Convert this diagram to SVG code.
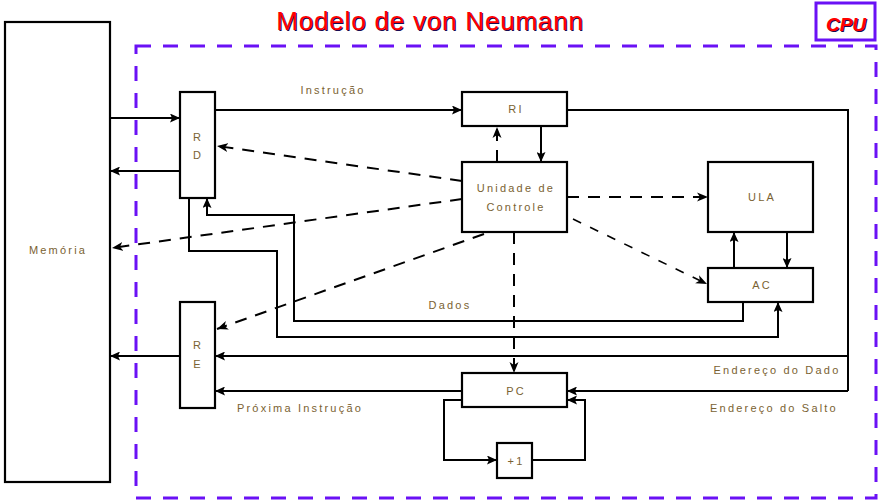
<svg xmlns="http://www.w3.org/2000/svg" width="880" height="503" viewBox="0 0 880 503">
<defs>
<style>
.box{fill:#fff;stroke:#000;stroke-width:2.2}
.ln{fill:none;stroke:#000;stroke-width:2}
.ds{fill:none;stroke:#000;stroke-width:2;stroke-dasharray:12 9}
.ds2{fill:none;stroke:#000;stroke-width:1.6;stroke-dasharray:9 10}
.lbl{font-family:"Liberation Sans",Arial,sans-serif;font-size:11px;fill:#7a6232;letter-spacing:2.2px;text-anchor:middle}
.cpu{fill:none;stroke:#6a11f5;stroke-width:3}
</style>
<marker id="ar" markerUnits="userSpaceOnUse" markerWidth="11" markerHeight="9" refX="10" refY="4.5" orient="auto">
<path d="M0,0 L10,4.5 L0,9 L2,4.5 z" fill="#000"/>
</marker>
<marker id="ad" markerUnits="userSpaceOnUse" markerWidth="13" markerHeight="10" refX="11" refY="5" orient="auto">
<path d="M0,0.5 L11,5 L0,9.5 L3,5 z" fill="#000"/>
</marker>
</defs>
<rect width="880" height="503" fill="#fff"/>

<rect x="136" y="46" width="740" height="452" class="cpu" stroke-dasharray="15 12"/>

<g id="title">
<text x="431" y="31" font-family="Liberation Sans,Arial,sans-serif" font-size="26" letter-spacing="0.8" text-anchor="middle" fill="#1a0a50">Modelo de von Neumann</text>
<text x="430" y="30" font-family="Liberation Sans,Arial,sans-serif" font-size="26" letter-spacing="0.8" text-anchor="middle" fill="#ff0000">Modelo de von Neumann</text>
</g>
<g id="cpu">
<rect x="816" y="3" width="59" height="37" class="cpu"/>
<text x="847" y="32" font-family="Liberation Sans,Arial,sans-serif" font-size="19" font-weight="bold" font-style="italic" text-anchor="middle" fill="#1a0a50">CPU</text>
<text x="846" y="31" font-family="Liberation Sans,Arial,sans-serif" font-size="19" font-weight="bold" font-style="italic" text-anchor="middle" fill="#ff0000">CPU</text>
</g>

<g id="connectors">
<line x1="110" y1="118" x2="180" y2="118" class="ln" marker-end="url(#ar)"/>
<line x1="180" y1="171" x2="110" y2="171" class="ln" marker-end="url(#ar)"/>
<line x1="215" y1="110" x2="462" y2="110" class="ln" marker-end="url(#ar)"/>
<line x1="541" y1="126" x2="541" y2="162" class="ln" marker-end="url(#ar)"/>
<line x1="497" y1="162" x2="497" y2="127" class="ds" marker-end="url(#ad)"/>
<polyline points="567,110 848,110 848,391" class="ln"/>
<line x1="848" y1="356" x2="215" y2="356" class="ln" marker-end="url(#ar)"/>
<line x1="848" y1="391" x2="567" y2="391" class="ln" marker-end="url(#ar)"/>
<line x1="180" y1="356" x2="110" y2="356" class="ln" marker-end="url(#ar)"/>
<line x1="462" y1="391" x2="215" y2="391" class="ln" marker-end="url(#ar)"/>
<polyline points="462,400 444,400 444,460 497,460" class="ln" marker-end="url(#ar)"/>
<polyline points="532,460 585,460 585,400 567,400" class="ln" marker-end="url(#ar)"/>
<line x1="514" y1="232" x2="514" y2="373" class="ds" marker-end="url(#ad)"/>
<line x1="567" y1="197" x2="708" y2="197" class="ds" marker-end="url(#ad)"/>
<line x1="573" y1="219" x2="707" y2="284" class="ds2" marker-end="url(#ad)"/>
<line x1="462" y1="181" x2="217" y2="146" class="ds" marker-end="url(#ad)"/>
<line x1="462" y1="199" x2="112" y2="248" class="ds" marker-end="url(#ad)"/>
<line x1="484" y1="234" x2="217" y2="329" class="ds" marker-end="url(#ad)"/>
<polyline points="189,198 189,251 277,251 277,337 778,337 778,302" class="ln" marker-end="url(#ar)"/>
<polyline points="743,302 743,321 294,321 294,215 207,215 207,198" class="ln" marker-end="url(#ar)"/>
<line x1="734" y1="268" x2="734" y2="232" class="ln" marker-end="url(#ar)"/>
<line x1="787" y1="232" x2="787" y2="268" class="ln" marker-end="url(#ar)"/>
</g>

<g id="memoria">
<rect x="5" y="22" width="105" height="460" class="box"/>
<text x="58" y="254" class="lbl">Memória</text>
</g>
<g id="rd">
<rect x="180" y="92" width="35" height="106" class="box"/>
<text x="198" y="141" class="lbl">R</text>
<text x="198" y="159" class="lbl">D</text>
</g>
<g id="ri">
<rect x="462" y="92" width="105" height="34" class="box"/>
<text x="516" y="113" class="lbl">RI</text>
</g>
<g id="uc">
<rect x="462" y="162" width="105" height="70" class="box"/>
<text x="516" y="192" class="lbl">Unidade de</text>
<text x="516" y="211" class="lbl">Controle</text>
</g>
<g id="ula">
<rect x="708" y="162" width="105" height="70" class="box"/>
<text x="762" y="201" class="lbl">ULA</text>
</g>
<g id="ac">
<rect x="708" y="268" width="105" height="34" class="box"/>
<text x="762" y="289" class="lbl">AC</text>
</g>
<g id="re">
<rect x="180" y="302" width="35" height="106" class="box"/>
<text x="198" y="349" class="lbl">R</text>
<text x="198" y="368" class="lbl">E</text>
</g>
<g id="pc">
<rect x="462" y="373" width="105" height="34" class="box"/>
<text x="516" y="395" class="lbl">PC</text>
</g>
<g id="inc">
<rect x="497" y="443" width="35" height="35" class="box"/>
<text x="516" y="465" class="lbl">+1</text>
</g>

<g id="labels">
<text x="333" y="94" class="lbl">Instrução</text>
<text x="450" y="309" class="lbl">Dados</text>
<text x="777" y="374" class="lbl">Endereço do Dado</text>
<text x="774" y="412" class="lbl">Endereço do Salto</text>
<text x="300" y="412" class="lbl">Próxima Instrução</text>
</g>
</svg>
